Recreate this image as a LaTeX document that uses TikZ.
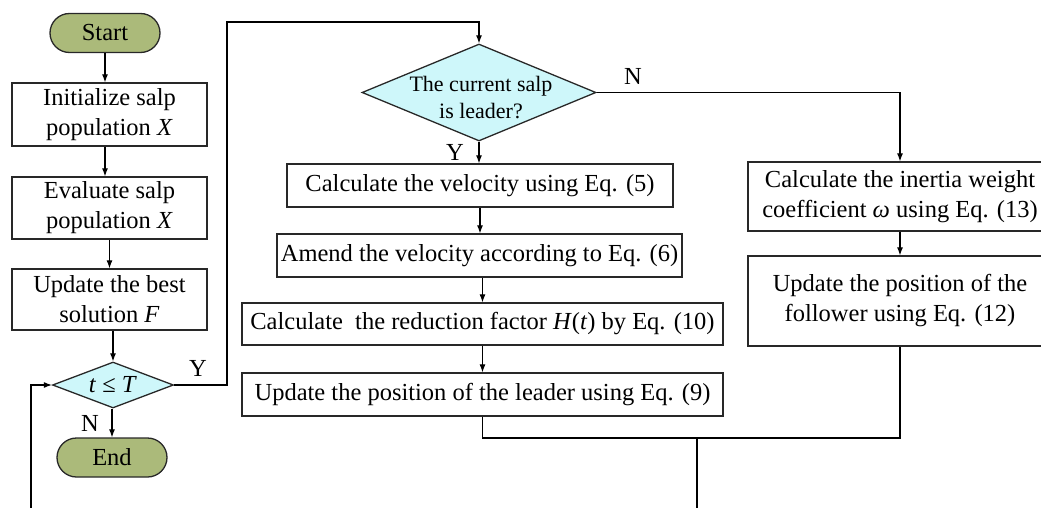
\documentclass[tikz,border=0pt]{standalone}
\usepackage{fontspec}
\setmainfont{Liberation Serif}
\usetikzlibrary{shapes.geometric,arrows.meta}
\definecolor{termfill}{RGB}{171,186,122}
\definecolor{decfill}{RGB}{206,247,250}
\definecolor{edge}{RGB}{40,40,40}
\begin{document}
\begin{tikzpicture}[x=1pt,y=-1pt,
  every node/.style={font=\fontsize{24.5pt}{30pt}\selectfont},
  procbox/.style={draw=edge,line width=1.3pt,fill=white,rectangle,inner sep=0pt,align=center},
  termbox/.style={draw=edge,line width=1.3pt,fill=termfill,rectangle,rounded corners=19.5pt,inner sep=0pt,minimum width=110pt,minimum height=39pt},
  decbox/.style={draw=edge,line width=1.3pt,fill=decfill,diamond,inner sep=0pt},
  dectext/.style={align=center,inner sep=0pt},
  flow/.style={line width=1.1pt,-{Latex[length=8pt,width=6pt]}},
  link/.style={line width=1.1pt},
  tag/.style={inner sep=0pt}]
\useasboundingbox (0,0) rectangle (1041,508);

% left column: initialisation and main loop test
\node[termbox] (start) at (105,33) {Start};
\node[procbox,minimum width=195pt,minimum height=63pt] (init) at (109.5,114.5) {Initialize salp\\population \textit{X}};
\node[procbox,minimum width=195pt,minimum height=62pt] (eval) at (109.5,208) {Evaluate salp\\population \textit{X}};
\node[procbox,minimum width=195pt,minimum height=61pt] (best) at (109.5,299.5) {Update the best\\solution \textit{F}};
\node[decbox,minimum width=121pt,minimum height=46pt] (cond) at (113,385) {};
\node[dectext] (condtxt) at (cond.center) {\textit{t} ≤ \textit{T}};
\node[termbox] (end) at (112,457.5) {End};

% leader / follower decision
\node[decbox,minimum width=234pt,minimum height=97pt] (leaderq) at (479,92.5) {};
\node[dectext,font=\fontsize{22pt}{27pt}\selectfont] (leaderqtxt) at (481,98) {The current salp\\is leader?};

% leader branch
\node[procbox,minimum width=386pt,minimum height=43pt] (vel) at (480,185.5) {Calculate the velocity using Eq. (5)};
\node[procbox,minimum width=405pt,minimum height=43pt] (amend) at (479.5,255.5) {Amend the velocity according to Eq. (6)};
\node[procbox,minimum width=481pt,minimum height=42pt] (red) at (482.5,324) {Calculate\ \ the reduction factor \textit{H}(\textit{t}) by Eq. (10)};
\node[procbox,minimum width=481pt,minimum height=43pt] (lead) at (482.5,394.5) {Update the position of the leader using Eq. (9)};

% follower branch
\node[procbox,minimum width=304pt,minimum height=69pt] (inertia) at (900,196.5) {Calculate the inertia weight\\coefficient \textit{ω} using Eq. (13)};
\node[procbox,minimum width=304pt,minimum height=90pt] (follow) at (900,301) {Update the position of the\\follower using Eq. (12)};

% helper points for the routed lines
\coordinate (loopin) at (31,510);
\coordinate (loopout) at (697,510);
\coordinate (merge) at (697,438);

% main column arrows
\draw[flow] (start.south) -- (start.south |- init.north);
\draw[flow] (init.south -| start.south) -- (eval.north -| start.south);
\draw[flow] (eval.south) -- (best.north);
\draw[flow] (best.south -| cond.north) -- (cond.north);
\draw[flow] (cond.south -| end.north) -- (end.north);
\node[tag] at (90,423) {N};

% loop entry from the bottom
\draw[flow] (loopin) |- (cond.west);

% Y branch up to the leader test
\draw[flow] (cond.east) -| (227,22) -| (leaderq.north);
\node[tag] at (198,368) {Y};

% leader branch arrows
\draw[flow] (leaderq.south) -- (leaderq.south |- vel.north);
\node[tag] at (455,152) {Y};
\draw[flow] (vel.south) -- (vel.south |- amend.north);
\draw[flow] (amend.south -| red.north) -- (red.north);
\draw[flow] (red.south) -- (lead.north);

% follower branch arrows
\draw[flow] (leaderq.east) -| (inertia.north);
\node[tag] at (633,76) {N};
\draw[flow] (inertia.south) -- (follow.north);

% merging both branches
\draw[link] (lead.south) |- (merge) -| (follow.south);
\draw[link] (merge) -- (loopout);
\end{tikzpicture}
\end{document}
